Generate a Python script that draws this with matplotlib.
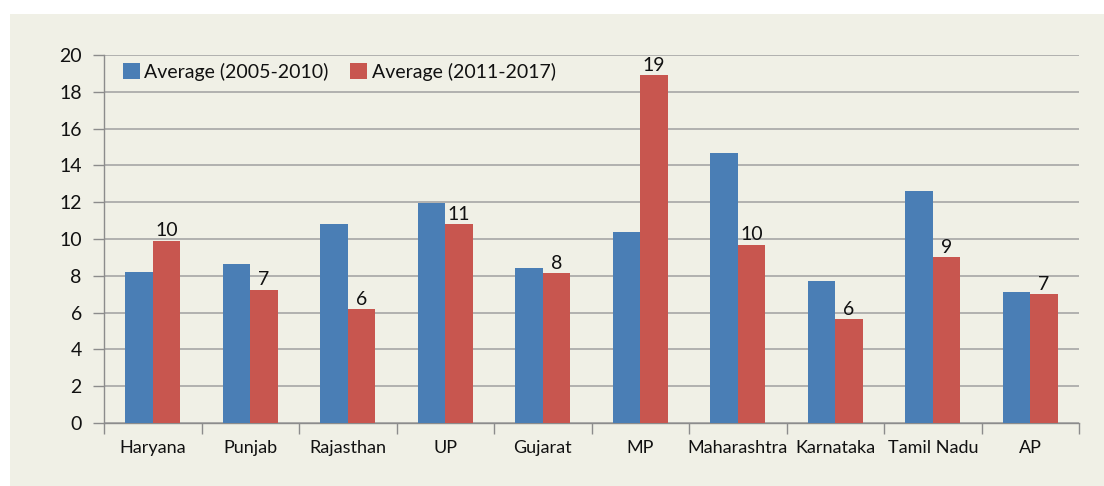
import matplotlib
matplotlib.use("Agg")
import matplotlib.pyplot as plt
from matplotlib.patches import Rectangle, Patch
import numpy as np

states = ["Haryana", "Punjab", "Rajasthan", "UP", "Gujarat", "MP",
          "Maharashtra", "Karnataka", "Tamil Nadu", "AP"]
avg_2005_2010 = [8.2, 8.65, 10.8, 11.95, 8.4, 10.4, 14.7, 7.7, 12.6, 7.1]
avg_2011_2017 = [9.9, 7.25, 6.2, 10.8, 8.15, 18.9, 9.7, 5.65, 9.0, 7.0]
red_labels = ["10", "7", "6", "11", "8", "19", "10", "6", "9", "7"]
series_names = ["Average (2005-2010)", "Average (2011-2017)"]
yticks = [0, 2, 4, 6, 8, 10, 12, 14, 16, 18, 20]

plt.rcParams['font.family'] = ['Lato', 'DejaVu Sans']

BG = "#f0f0e6"
BLUE = "#4a7eb5"
RED = "#c8564f"
GRID = "#a6a6a6"
TXT = "#111111"

fig = plt.figure(figsize=(11.04, 4.86), dpi=100)
fig.patch.set_facecolor("white")
fig.patches.append(Rectangle((10 / 1104, 0), 1, 1 - 14 / 486,
                             transform=fig.transFigure, facecolor=BG,
                             edgecolor="none", zorder=-10))

ax = fig.add_axes([104 / 1104, 1 - 423 / 486, 975 / 1104, 368 / 486])
ax.set_facecolor(BG)
ax.patch.set_alpha(0)

x = np.arange(len(states))
w = 0.28
ax.bar(x - w / 2, avg_2005_2010, width=w, color=BLUE, zorder=3)
bars_r = ax.bar(x + w / 2, avg_2011_2017, width=w, color=RED, zorder=3)

for rect, lab in zip(bars_r, red_labels):
    ax.annotate(lab, (rect.get_x() + rect.get_width() / 2, rect.get_height()),
                xytext=(0, 1), textcoords="offset points",
                ha="center", va="bottom", fontsize=14, color=TXT)

ax.set_xlim(-0.5, len(states) - 0.5)
ax.set_ylim(0, 20)
ax.set_yticks(yticks)
ax.set_yticklabels([str(v) for v in yticks], fontsize=14, color=TXT)
ax.yaxis.grid(True, color=GRID, linewidth=1.2, zorder=0)
ax.set_axisbelow(True)

ax.set_xticks(x)
ax.set_xticklabels(states, fontsize=13, color=TXT)
ax.set_xticks(np.arange(-0.5, len(states), 1), minor=True)
ax.tick_params(axis="x", which="major", length=0, pad=12)
ax.tick_params(axis="x", which="minor", length=8, width=1, color="#8c8c8c", direction="out")
ax.tick_params(axis="y", which="major", length=8, width=1, color="#8c8c8c", pad=8)

for s in ["top", "right"]:
    ax.spines[s].set_visible(False)
for s in ["left", "bottom"]:
    ax.spines[s].set_color("#8c8c8c")
    ax.spines[s].set_linewidth(1)

handles = [Patch(facecolor=BLUE), Patch(facecolor=RED)]
leg = ax.legend(handles, series_names, ncol=2, frameon=False, fontsize=14,
                loc="center left", bbox_to_anchor=(0.0195, 0.954),
                borderpad=0, borderaxespad=0, handlelength=0.85,
                handleheight=0.85, handletextpad=0.25, columnspacing=1.1)
for t in leg.get_texts():
    t.set_color(TXT)

fig.savefig("out.png", dpi=100, facecolor=fig.get_facecolor())
